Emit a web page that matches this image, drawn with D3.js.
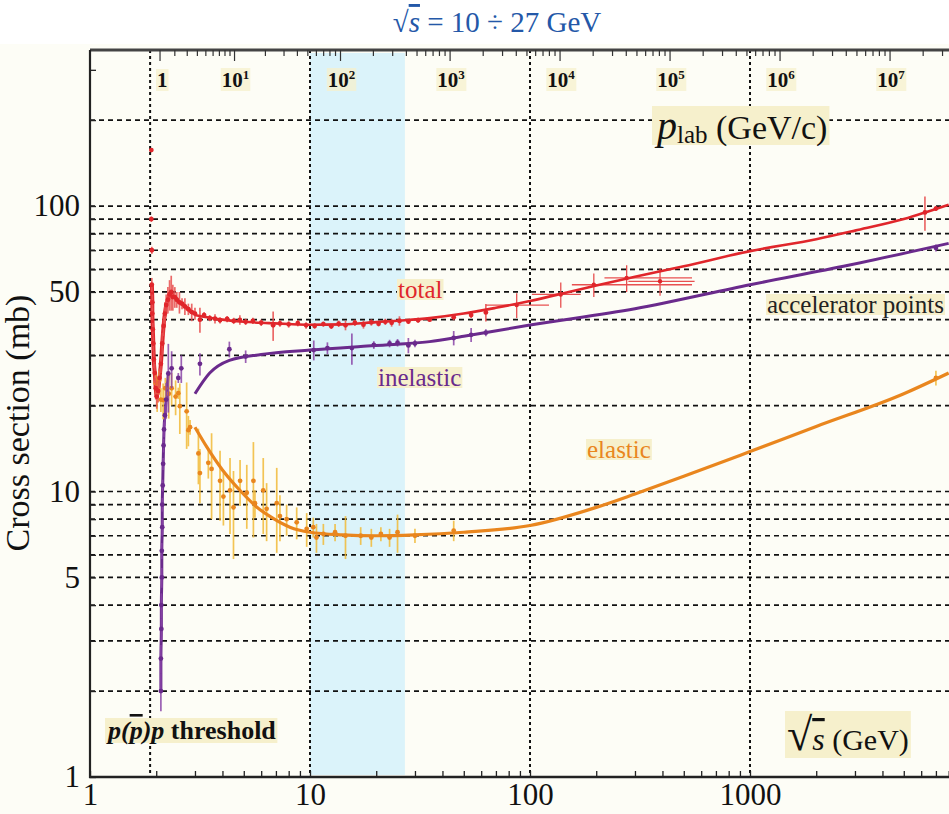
<!DOCTYPE html>
<html>
<head>
<meta charset="utf-8">
<script src="https://cdn.jsdelivr.net/npm/d3@7"></script>
<style>
  body { margin: 0; background: #fff; }
  svg { display: block; }
</style>
</head>
<body>
<script>
// ---- data ----
const gridY = [2, 3, 4, 5, 6, 7, 8, 9, 10, 20, 30, 40, 50, 60, 70, 80, 90, 100, 200];
const gridX = [1.876, 10, 100, 1000];          // threshold (2 m_p) + decades
const yTickLabels = [1, 5, 10, 50, 100];
const xTickLabels = [1, 10, 100, 1000];
const plabDecades = [0, 1, 2, 3, 4, 5, 6, 7];
const band = [10, 27];                          // sqrt(s) = 10 .. 27 GeV

// fitted curves (sqrt(s) in GeV, sigma in mb)
const totFitS = [3.0, 3.5, 4, 5, 6.5, 8, 10, 14, 20, 27, 35, 50, 70, 100, 150, 200, 300, 500, 1000, 2000, 3000, 5000, 8000];
const totFit  = [41.5, 40.6, 40.0, 39.3, 38.9, 38.6, 38.4, 38.5, 39.2, 39.8, 40.5, 42.0, 44.0, 46.5, 50.0, 52.7, 56.5, 61.5, 69.5, 76.5, 82.0, 90.0, 101.0];
const inelFitS = [3.0, 3.5, 4.3, 6, 10, 17, 25, 35, 50, 100, 300, 1000, 2800, 8000];
const inelFit  = [22.0, 26.0, 28.8, 30.2, 31.3, 32.2, 32.8, 33.5, 35.0, 38.3, 43.7, 53.0, 62.0, 74.0];
const elFitS = [3.0, 3.4, 4.0, 4.8, 5.7, 6.8, 8.1, 10, 14, 20, 30, 50, 100, 200, 300, 500, 1000, 2000, 5000, 8000];
const elFit  = [16.8, 14.3, 11.9, 10.1, 8.85, 8.05, 7.5, 7.2, 7.05, 7.0, 7.05, 7.2, 7.6, 8.8, 9.8, 11.3, 13.8, 16.9, 22.0, 26.0];

// measured points: sqrt(s), sigma, error
const totS = [1.90, 1.90, 1.91, 1.91, 1.92, 1.92, 1.93, 1.94, 1.95, 1.97, 1.99, 2.01, 2.04, 2.07, 2.10, 2.13, 2.16, 2.19, 2.22, 2.26, 2.30, 2.34, 2.38, 2.43, 2.48, 2.55, 2.62, 2.70, 2.80, 2.90, 3.0, 3.16, 3.3, 3.5, 3.7, 3.9, 4.2, 4.5, 4.8, 5.1, 5.5, 6.0, 6.8, 7.3, 8.0, 8.8, 9.6, 10.5, 11.5, 12.5, 13.5, 14.5, 16, 17.5, 19, 20.5, 22, 23.5, 25.5, 28, 31, 35, 45, 54, 63, 6240, 7000];
const totV = [157, 90, 70, 53, 46, 42, 37, 33, 29, 26, 23, 21.5, 22.5, 25, 28, 33, 38, 42, 45, 47, 49, 50, 48, 48, 47, 46, 45.5, 44.5, 43.5, 42.5, 42, 40, 41.5, 40.5, 40.3, 39.8, 40.2, 39.6, 39.9, 39.3, 39.6, 39.0, 38.2, 38.8, 38.5, 38.9, 38.2, 38.0, 38.6, 37.9, 38.7, 38.2, 39.0, 38.4, 39.1, 38.7, 39.3, 39.0, 39.6, 39.4, 39.8, 40.0, 40.8, 41.5, 42.4, 95, 98];
const totE = [2, 2, 2, 3, 3, 2, 2, 2, 2, 2, 2, 2, 2, 2, 2, 3, 3, 4, 4, 5, 6, 7, 5, 4, 3, 4, 2, 3, 2, 3, 2, 4, 1, 1, 1.5, 1, 1, 1, 1.5, 1, 1, 1, 4.5, 1, 1, 1, 1, 0.8, 0.8, 0.8, 1, 1.5, 1, 1.2, 1, 0.8, 1, 1.2, 1.5, 0.8, 0.8, 0.7, 1, 1, 3, 13, 2];
// points with horizontal error bars
const wideS  = [87, 138, 195, 275, 390];
const wideV  = [45, 49, 53, 56, 54.5];
const wideE  = [4.5, 5, 5, 6, 6];
const wideLo = [63, 102, 155, 218, 280];
const wideHi = [122, 170, 545, 545, 560];

const inS = [2.10, 2.10, 2.11, 2.11, 2.12, 2.12, 2.13, 2.13, 2.14, 2.15, 2.16, 2.17, 2.19, 2.22, 2.27, 2.35, 2.52, 2.6, 3.16, 4.3, 5.1, 10.4, 12.0, 15.5, 19.5, 23, 25, 28, 30, 45, 54, 63, 7000];
const inV = [2.0, 2.6, 3.3, 4.0, 5.0, 6.2, 7.5, 9.0, 10.5, 12.5, 14.5, 16.5, 18.5, 21, 25.9, 27, 25, 27, 28, 31.5, 29.7, 31.3, 31.8, 31.8, 32.6, 33, 33.2, 32.5, 33, 34.5, 35.4, 36, 71.3];
const inE = [0.3, 0.3, 0.3, 0.4, 0.4, 0.4, 0.5, 0.5, 0.5, 0.6, 0.8, 1, 1.5, 3, 7, 4, 1, 3, 2.5, 2, 1.5, 2.5, 1.5, 4, 1, 1, 1, 2, 1, 2, 2, 1, 2];

const elS = [1.99, 2.02, 2.06, 2.1, 2.15, 2.2, 2.28, 2.35, 2.45, 2.52, 2.56, 2.75, 2.8, 2.85, 3.11, 3.16, 3.45, 3.57, 3.9, 4.04, 4.33, 4.49, 4.81, 5.16, 5.53, 5.62, 6.13, 6.35, 7.06, 7.3, 7.83, 8.7, 9.66, 10.35, 10.7, 11.5, 13, 14.5, 17, 19, 21, 23, 25, 30, 45, 7000];
const elV = [24, 22, 24.5, 21, 20.9, 23, 22, 23, 21.5, 22.1, 19.9, 19.1, 16.4, 16.8, 13.6, 11.6, 12.6, 12.0, 10.9, 9.6, 10.1, 8.8, 10.9, 9.9, 10.9, 9.1, 10.1, 8.7, 9.1, 8.2, 8.0, 7.8, 7.4, 7.5, 6.9, 7.1, 7.2, 7.0, 7.0, 6.9, 7.1, 6.9, 7.2, 7.0, 7.3, 25];
const elE = [2, 3, 2, 2, 3, 2, 4, 3, 3, 1, 4, 5, 2, 1, 3, 2.5, 1.5, 4, 3, 2, 3, 3, 2, 2.5, 4, 1, 3, 2, 3, 1.5, 1, 1, 1, 0.6, 0.8, 0.6, 0.5, 1.2, 0.5, 0.5, 0.4, 0.5, 1.1, 0.4, 0.6, 1.5];

// ---- layout ----
const W = 949, H = 814;
const red = '#e0262b', redBar = '#e85050';
const purple = '#6a2a8c', purpleBar = '#8a45a8';
const orange = '#e9861e', orangeBar = '#f2bb38';
const boxFill = '#f6f0cc';
const serif = '"Liberation Serif", "Times New Roman", serif';

const svg = d3.select('body').append('svg')
  .attr('width', W)
  .attr('height', H);

svg.append('rect').attr('width', W).attr('height', H).attr('fill', '#fff');
svg.append('rect').attr('y', 44).attr('width', W).attr('height', H - 44).attr('fill', '#fdfdf6');

const x = d3.scaleLog().domain([1, 10000]).range([90, 970]);
const y = d3.scaleLog().domain([1, 352]).range([777, 50]);
const plotTop = 50, plotBottom = 777, plotLeft = 90;

svg.append('clipPath').attr('id', 'plot')
  .append('rect').attr('x', plotLeft).attr('y', plotTop).attr('width', W - plotLeft).attr('height', plotBottom - plotTop);

const plot = svg.append('g').attr('clip-path', 'url(#plot)');

// highlighted energy band
plot.append('rect')
  .attr('x', x(band[0])).attr('y', plotTop + 3)
  .attr('width', x(band[1]) - x(band[0])).attr('height', plotBottom - plotTop - 5)
  .attr('fill', '#dbf3fa');

// dashed grid
plot.selectAll('.gy').data(gridY).enter().append('line')
  .attr('x1', plotLeft).attr('x2', W)
  .attr('y1', d => y(d)).attr('y2', d => y(d))
  .attr('stroke', '#111').attr('stroke-width', 1.7).attr('stroke-dasharray', '5,4');
plot.selectAll('.gx').data(gridX).enter().append('line')
  .attr('x1', d => x(d)).attr('x2', d => x(d))
  .attr('y1', plotTop).attr('y2', plotBottom)
  .attr('stroke', '#111').attr('stroke-width', 2).attr('stroke-dasharray', '3,3');

// error bars + points
function drawPoints(S, V, E, col, barCol) {
  const g = plot.append('g');
  const data = S.map((s, i) => ({ s, v: V[i], e: E[i] }));
  g.selectAll('line').data(data).enter().append('line')
    .attr('x1', d => x(d.s)).attr('x2', d => x(d.s))
    .attr('y1', d => y(d.v - d.e)).attr('y2', d => y(d.v + d.e))
    .attr('stroke', barCol).attr('stroke-width', 1.7).attr('opacity', 0.85);
  g.selectAll('circle').data(data).enter().append('circle')
    .attr('cx', d => x(d.s)).attr('cy', d => y(d.v)).attr('r', 2.4)
    .attr('fill', col);
}

const line = d3.line().x(d => x(d[0])).y(d => y(d[1])).curve(d3.curveMonotoneX);

// dense near-threshold data drawn as connected traces
const redTrace = totS.map((s, i) => [s, totV[i]]).filter(d => d[0] < 3.05 && d[1] < 60);
plot.append('path').attr('d', line(redTrace)).attr('fill', 'none')
  .attr('stroke', red).attr('stroke-width', 4);
const purpleTrace = inS.map((s, i) => [s, inV[i]]).filter(d => d[0] < 2.3);
plot.append('path').attr('d', line(purpleTrace)).attr('fill', 'none')
  .attr('stroke', purple).attr('stroke-width', 3);

drawPoints(elS, elV, elE, orange, orangeBar);
drawPoints(inS, inV, inE, purple, purpleBar);
drawPoints(totS, totV, totE, red, redBar);

// wide points with horizontal bars
const wide = plot.append('g');
const wideData = wideS.map((s, i) => ({ s, v: wideV[i], e: wideE[i], lo: wideLo[i], hi: wideHi[i] }));
wide.selectAll('.h').data(wideData).enter().append('line')
  .attr('x1', d => x(d.lo)).attr('x2', d => x(d.hi))
  .attr('y1', d => y(d.v)).attr('y2', d => y(d.v))
  .attr('stroke', redBar).attr('stroke-width', 1.3);
wide.selectAll('.v').data(wideData).enter().append('line')
  .attr('x1', d => x(d.s)).attr('x2', d => x(d.s))
  .attr('y1', d => y(d.v - d.e)).attr('y2', d => y(d.v + d.e))
  .attr('stroke', redBar).attr('stroke-width', 1.3);
wide.selectAll('circle').data(wideData).enter().append('circle')
  .attr('cx', d => x(d.s)).attr('cy', d => y(d.v)).attr('r', 2.2).attr('fill', red);

// fits
[[elFitS, elFit, orange, 3.2], [inelFitS, inelFit, purple, 3], [totFitS, totFit, red, 2.6]].forEach(([S, V, col, w]) => {
  plot.append('path')
    .attr('d', line(S.map((s, i) => [s, V[i]])))
    .attr('fill', 'none').attr('stroke', col).attr('stroke-width', w);
});

// ---- frame and axes ----
svg.append('line').attr('x1', plotLeft).attr('x2', W).attr('y1', plotTop).attr('y2', plotTop)
  .attr('stroke', '#444').attr('stroke-width', 3);
svg.append('line').attr('x1', plotLeft).attr('x2', plotLeft).attr('y1', plotTop).attr('y2', plotBottom + 1)
  .attr('stroke', '#222').attr('stroke-width', 2.2);
svg.append('line').attr('x1', plotLeft - 1).attr('x2', W).attr('y1', plotBottom).attr('y2', plotBottom)
  .attr('stroke', '#222').attr('stroke-width', 2.6);

const xMinor = [];
for (let k = 0; k < 4; k++) for (let m = 1; m < 10; m++) xMinor.push(m * Math.pow(10, k));
const xAxisGroup = svg.append('g').attr('transform', `translate(0, ${plotBottom})`);
xAxisGroup.call(d3.axisBottom(x).tickValues(xMinor).tickSize(-6).tickFormat(''));
xAxisGroup.select('.domain').remove();
xAxisGroup.selectAll('line').attr('stroke', '#222').attr('stroke-width', 1.3);

const xLab = svg.append('g').attr('transform', `translate(0, ${plotBottom})`);
xLab.call(d3.axisBottom(x).tickValues(xTickLabels).tickSize(0).tickPadding(10).tickFormat(d3.format('d')));
xLab.select('.domain').remove();
xLab.selectAll('text').attr('font-family', serif).attr('font-size', 31).attr('fill', '#111').attr('dy', '0.58em');

const yMinor = [];
for (let k = 0; k < 3; k++) for (let m = 1; m < 10; m++) yMinor.push(m * Math.pow(10, k));
const yAxisGroup = svg.append('g').attr('transform', `translate(${plotLeft}, 0)`);
yAxisGroup.call(d3.axisLeft(y).tickValues(yMinor.filter(v => v <= 300)).tickSize(-6).tickFormat(''));
yAxisGroup.select('.domain').remove();
yAxisGroup.selectAll('line').attr('stroke', '#222').attr('stroke-width', 1.3);

const yLab = svg.append('g').attr('transform', `translate(${plotLeft}, 0)`);
yLab.call(d3.axisLeft(y).tickValues(yTickLabels).tickSize(0).tickPadding(10).tickFormat(d3.format('d')));
yLab.select('.domain').remove();
yLab.selectAll('text').attr('font-family', serif).attr('font-size', 31).attr('fill', '#111').attr('dy', '0.32em');

// top axis: p_lab (GeV/c)
const mp = 0.938;
const sqrtsOfPlab = p => Math.sqrt(2 * mp * mp + 2 * mp * Math.sqrt(p * p + mp * mp));
const pMinor = [];
plabDecades.forEach(k => { for (let m = 1; m < 10; m++) pMinor.push(m * Math.pow(10, k)); });
const topTicks = svg.append('g');
topTicks.selectAll('line').data(pMinor.filter(p => x(sqrtsOfPlab(p)) < W)).enter().append('line')
  .attr('x1', p => x(sqrtsOfPlab(p))).attr('x2', p => x(sqrtsOfPlab(p)))
  .attr('y1', plotTop).attr('y2', p => plotTop + (Math.abs(Math.log10(p) % 1) < 1e-9 ? 11 : 6))
  .attr('stroke', '#333').attr('stroke-width', 1.2);

function boxed(sel, padX, padY, op) {
  sel.each(function () {
    const b = this.getBBox();
    d3.select(this.parentNode).insert('rect', () => this)
      .attr('x', b.x - padX).attr('y', b.y - padY)
      .attr('width', b.width + 2 * padX).attr('height', b.height + 2 * padY)
      .attr('fill', boxFill).attr('fill-opacity', op || 1);
  });
}

const topLab = svg.append('g');
plabDecades.forEach(k => {
  const t = topLab.append('text')
    .attr('x', x(sqrtsOfPlab(Math.pow(10, k))) + (k === 0 ? -3 : 1))
    .attr('y', 87)
    .attr('text-anchor', k === 0 ? 'start' : 'middle')
    .attr('font-family', serif).attr('font-weight', 'bold').attr('font-size', 21).attr('fill', '#111');
  if (k === 0) t.text('1');
  else {
    t.append('tspan').text('10');
    t.append('tspan').attr('dy', -8).attr('font-size', 13).text(k);
  }
  boxed(t, 1, -1, 0.75);
});

// ---- texts ----
const title = svg.append('text')
  .attr('x', 497).attr('y', 32).attr('text-anchor', 'middle')
  .attr('font-family', serif).attr('font-size', 29).attr('fill', '#2458a8');
title.append('tspan').text('√');
title.append('tspan').attr('font-style', 'italic').style('text-decoration', 'overline').text('s');
title.append('tspan').text(' = 10 ÷ 27 GeV');

svg.append('text')
  .attr('transform', 'translate(29, 423) rotate(-90)')
  .attr('text-anchor', 'middle')
  .attr('font-family', serif).attr('font-size', 34).attr('fill', '#111')
  .text('Cross section (mb)');

const plab = svg.append('text').attr('x', 657).attr('y', 139)
  .attr('font-family', serif).attr('fill', '#111');
plab.append('tspan').attr('font-style', 'italic').attr('font-size', 40).text('p');
plab.append('tspan').attr('font-size', 25).attr('dy', 4).text('lab');
plab.append('tspan').attr('font-size', 34).attr('dy', -4).text(' (GeV/c)');
boxed(plab, 2, -3);

function label(txt, x0, y0, col) {
  const t = svg.append('text').attr('x', x0).attr('y', y0)
    .attr('font-family', serif).attr('font-size', 25).attr('fill', col).text(txt);
  boxed(t, 1, -3);
  return t;
}
label('total', 398, 298, red);
label('inelastic', 378, 386, purple);
label('elastic', 587, 458, orange);
label('accelerator points', 767, 313, '#222');

const thr = svg.append('text').attr('x', 108).attr('y', 739)
  .attr('font-family', serif).attr('font-weight', 'bold').attr('font-size', 26).attr('fill', '#111');
thr.append('tspan').attr('font-style', 'italic').text('p(');
thr.append('tspan').attr('font-style', 'italic').style('text-decoration', 'overline').text('p');
thr.append('tspan').attr('font-style', 'italic').text(')p');
thr.append('tspan').text(' threshold');
boxed(thr, 1, -2);

const rs = svg.append('text').attr('x', 787).attr('y', 750)
  .attr('font-family', serif).attr('fill', '#111');
rs.append('tspan').attr('font-size', 46).text('√');
rs.append('tspan').attr('font-style', 'italic').attr('font-size', 32).style('text-decoration', 'overline').text('s');
rs.append('tspan').attr('font-size', 30).text('  (GeV)');
boxed(rs, 2, -2);
</script>
</body>
</html>
